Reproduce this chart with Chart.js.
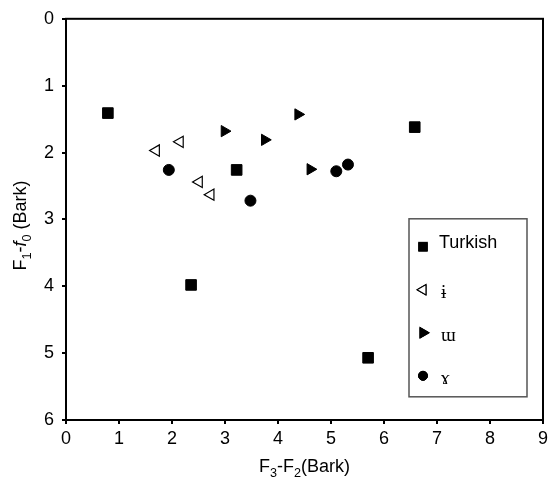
<!DOCTYPE html>
<html>
<head>
<meta charset="UTF-8">
<title>F1-f0 vs F3-F2</title>
<script src="https://cdn.jsdelivr.net/npm/chart.js"></script>
<style>
  html, body { margin: 0; padding: 0; background: #fff; }
  canvas { display: block; }
</style>
</head>
<body>
<canvas id="grafico" width="559" height="482"></canvas>
<script>
  // values (Bark)
  const turkishX = [0.79, 3.22, 2.36, 6.58, 5.70];
  const turkishY = [1.41, 2.26, 3.98, 1.62, 5.07];
  const barredIX = [1.70, 2.15, 2.51, 2.73];
  const barredIY = [1.97, 1.84, 2.44, 2.63];
  const turnedMX = [2.99, 3.75, 4.38, 4.61];
  const turnedMY = [1.68, 1.81, 1.43, 2.25];
  const ramsHornX = [1.94, 3.48, 5.10, 5.32];
  const ramsHornY = [2.26, 2.72, 2.28, 2.18];
  const seriesNames = ["Turkish", "ɨ", "ɯ", "ɤ"];
  const xTicks = [0, 1, 2, 3, 4, 5, 6, 7, 8, 9];
  const yTicks = [0, 1, 2, 3, 4, 5, 6];

  const pts = (xs, ys) => xs.map((x, i) => ({ x, y: ys[i] }));
  const SANS = '"Liberation Sans", Arial, sans-serif';
  const SERIF = '"Liberation Serif", "DejaVu Serif", serif';

  // text made of runs, so subscripts and italics stay real text
  function runsWidth(ctx, runs, size) {
    let w = 0;
    runs.forEach(r => {
      ctx.font = (r.it ? "italic " : "") + (r.sub ? size * 0.7 : size) + "px " + SANS;
      w += ctx.measureText(r.t).width;
    });
    return w;
  }
  function drawRuns(ctx, runs, cx, y, size) {
    let x = cx - runsWidth(ctx, runs, size) / 2;
    ctx.textAlign = "left";
    ctx.textBaseline = "alphabetic";
    runs.forEach(r => {
      ctx.font = (r.it ? "italic " : "") + (r.sub ? size * 0.7 : size) + "px " + SANS;
      ctx.fillText(r.t, x, r.sub ? y + size * 0.25 : y);
      x += ctx.measureText(r.t).width;
    });
  }

  const extras = {
    id: "extras",
    afterDraw(chart) {
      const { ctx, chartArea: a } = chart;
      ctx.save();
      // frame
      ctx.strokeStyle = "#000";
      ctx.lineWidth = 2;
      ctx.strokeRect(a.left, a.top, a.right - a.left, a.bottom - a.top);

      // axis titles
      ctx.fillStyle = "#000";
      drawRuns(ctx, [{ t: "F" }, { t: "3", sub: true }, { t: "-F" }, { t: "2", sub: true }, { t: "(Bark)" }],
        (a.left + a.right) / 2, 472, 18);
      ctx.save();
      ctx.translate(26, (a.top + a.bottom) / 2 + 6);
      ctx.rotate(-Math.PI / 2);
      drawRuns(ctx, [{ t: "F" }, { t: "1", sub: true }, { t: "-" }, { t: "f", it: true }, { t: "0", sub: true }, { t: " (Bark)" }],
        0, 0, 18);
      ctx.restore();

      // legend box
      const bx = a.right - 134, by = a.top + 200;
      ctx.strokeStyle = "#555";
      ctx.lineWidth = 1.5;
      ctx.strokeRect(bx, by, 118, 178);
      chart.data.datasets.forEach((ds, i) => {
        const cy = by + 28 + i * 43;
        Chart.helpers.drawPoint(ctx, {
          pointStyle: ds.pointStyle,
          radius: ds.pointStyle === "circle" ? 4.5 : 6,
          rotation: ds.rotation || 0,
          borderWidth: ds.borderWidth
        }, bx + 14, cy);
        ctx.fillStyle = ds.pointBackgroundColor;
        ctx.strokeStyle = "#000";
        ctx.lineWidth = ds.borderWidth;
        ctx.beginPath();
        Chart.helpers.drawPoint(ctx, {
          pointStyle: ds.pointStyle,
          radius: ds.pointStyle === "circle" ? 4.5 : 6,
          rotation: ds.rotation || 0,
          borderWidth: ds.borderWidth
        }, bx + 14, cy);
        ctx.fillStyle = "#000";
        ctx.textAlign = "left";
        ctx.textBaseline = "alphabetic";
        ctx.font = i === 0 ? "18px " + SANS : "19px " + SERIF;
        ctx.fillText(ds.label, bx + (i === 0 ? 30 : 32), cy + (i === 0 ? 1 : 8));
      });
      ctx.restore();
    }
  };

  const ctx = document.getElementById("grafico").getContext("2d");
  new Chart(ctx, {
    type: "scatter",
    data: {
      datasets: [
        { label: seriesNames[0], data: pts(turkishX, turkishY), pointStyle: "rect", pointRadius: 7.5,
          pointBackgroundColor: "#000", pointBorderColor: "#000", borderWidth: 1 },
        { label: seriesNames[1], data: pts(barredIX, barredIY), pointStyle: "triangle", pointRotation: -90, rotation: -90,
          pointRadius: 6.5, pointBackgroundColor: "#fff", pointBorderColor: "#000", pointBorderWidth: 1.2, borderWidth: 1.2 },
        { label: seriesNames[2], data: pts(turnedMX, turnedMY), pointStyle: "triangle", pointRotation: 90, rotation: 90,
          pointRadius: 6.5, pointBackgroundColor: "#000", pointBorderColor: "#000", borderWidth: 1 },
        { label: seriesNames[3], data: pts(ramsHornX, ramsHornY), pointStyle: "circle", pointRadius: 5.5,
          pointBackgroundColor: "#000", pointBorderColor: "#000", borderWidth: 1 }
      ]
    },
    options: {
      responsive: false,
      animation: false,
      layout: { padding: { top: 14, right: 16, left: 0, bottom: 0 } },
      plugins: { legend: { display: false }, tooltip: { enabled: false } },
      scales: {
        x: {
          type: "linear", min: 0, max: 9,
          afterFit: s => { s.height = 62; },
          afterBuildTicks: s => { s.ticks = xTicks.map(v => ({ value: v })); },
          grid: { drawOnChartArea: false, drawTicks: true, tickLength: 4, color: "#000", lineWidth: 2 },
          border: { display: true, color: "#000", width: 2 },
          ticks: { color: "#000", font: { family: SANS, size: 18 }, padding: 4, maxRotation: 0 }
        },
        y: {
          type: "linear", min: 0, max: 6, reverse: true,
          afterFit: s => { s.width = 66; },
          afterBuildTicks: s => { s.ticks = yTicks.map(v => ({ value: v })); },
          grid: { drawOnChartArea: false, drawTicks: true, tickLength: 4, color: "#000", lineWidth: 2 },
          border: { display: true, color: "#000", width: 2 },
          ticks: { color: "#000", font: { family: SANS, size: 18 }, padding: 8 }
        }
      }
    },
    plugins: [extras]
  });
</script>
</body>
</html>
